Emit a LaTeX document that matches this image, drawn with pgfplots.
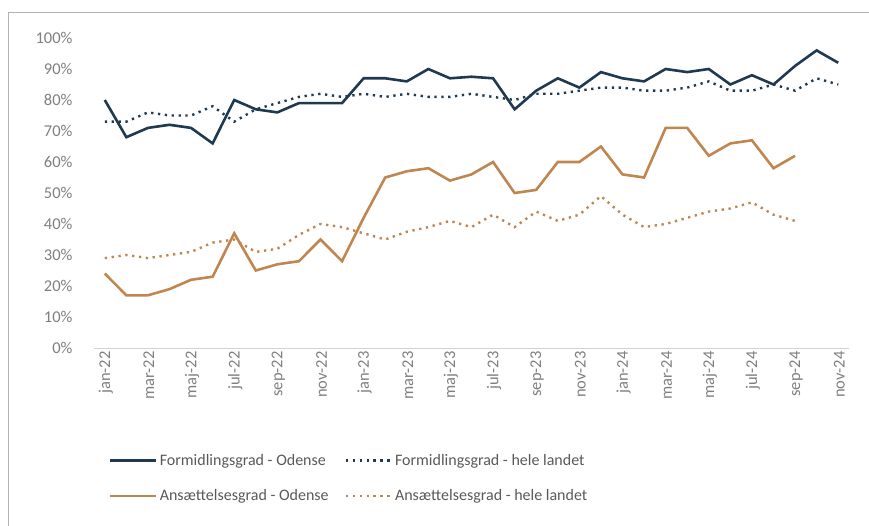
\documentclass[border=0pt]{standalone}
\usepackage{fontspec}
\setmainfont{Carlito}
\usepackage{pgfplots}
\pgfplotsset{compat=1.18}
\usepackage{pgfplotstable}

\definecolor{navy}{HTML}{1F3A50}
\definecolor{tan}{HTML}{C08650}
\definecolor{ticktxt}{HTML}{7F7F7F}
\definecolor{legtxt}{HTML}{595959}

% month index, Formidlingsgrad Odense / hele landet, Ansaettelsesgrad Odense / hele landet
\pgfplotstableread{
x fo fl
0 80 73
1 68 73
2 71 76
3 72 75
4 71 75
5 66 78
6 80 73
7 77 77
8 76 79
9 79 81
10 79 82
11 79 81
12 87 82
13 87 81
14 86 82
15 90 81
16 87 81
17 87.5 82
18 87 81
19 77 80
20 83 82
21 87 82
22 84 83
23 89 84
24 87 84
25 86 83
26 90 83
27 89 84
28 90 86
29 85 83
30 88 83
31 85 85
32 91 83
33 96 87
34 92 85
}\formid

\pgfplotstableread{
x ao al
0 24 29
1 17 30
2 17 29
3 19 30
4 22 31
5 23 34
6 37 35
7 25 31
8 27 32
9 28 36.5
10 35 40
11 28 39
12 42 37
13 55 35
14 57 37.5
15 58 39
16 54 41
17 56 39
18 60 43
19 50 39
20 51 44
21 60 41
22 60 43
23 65 49
24 56 43
25 55 39
26 71 40
27 71 42
28 62 44
29 66 45
30 67 47
31 58 43
32 62 41
}\ansaet

\begin{document}
\begin{tikzpicture}
\useasboundingbox (-94bp,-178bp) rectangle (775bp,348bp);
\draw[gray!60, line width=0.8bp] (-86bp,-178bp) -- (-86bp,336bp) -- (775bp,336bp);
\begin{axis}[
  scale only axis,
  width=755bp, height=310bp,
  xmin=-0.5, xmax=34.5,
  ymin=0, ymax=100,
  axis line style={draw=none},
  clip=false,
  ytick={0,10,...,100},
  xtick={0,2,...,34},
  xticklabels={jan-22,mar-22,maj-22,jul-22,sep-22,nov-22,jan-23,mar-23,maj-23,jul-23,sep-23,nov-23,jan-24,mar-24,maj-24,jul-24,sep-24,nov-24},
  yticklabel={\pgfmathprintnumber{\tick}\%},
  /pgf/number format/assume math mode=true,
  tick style={draw=none},
  yticklabel style={font=\fontsize{16.5bp}{18bp}\selectfont, text=ticktxt, anchor=east, xshift=-18bp},
  xticklabel style={font=\fontsize{16.5bp}{18bp}\selectfont, text=ticktxt, rotate=90, anchor=east, yshift=-1bp},
  legend columns=2,
  legend cell align=left,
  legend style={at={(axis cs:-0.5,0)}, anchor=north west, xshift=12bp, yshift=-102bp,
    draw=none, fill=none, font=\fontsize{16bp}{18bp}\selectfont, text=legtxt,
    /tikz/every even column/.append style={column sep=14bp},
    row sep=19bp},
  legend image code/.code={\draw[#1] (0bp,0bp) -- (46bp,0bp);},
]
\draw[gray!35, line width=1bp] (axis cs:-0.5,0) -- (axis cs:34.5,0);
\addplot[navy, line width=2.6bp] table[x=x, y=fo] {\formid};
\addlegendentry{Formidlingsgrad - Odense}
\addplot[navy, line width=2.4bp, dash pattern=on 2.3bp off 4.6bp] table[x=x, y=fl] {\formid};
\addlegendentry{Formidlingsgrad - hele landet}
\addplot[tan, line width=2.6bp] table[x=x, y=ao] {\ansaet};
\addlegendentry{Ansættelsesgrad - Odense}
\addplot[tan, line width=2.4bp, dash pattern=on 2.3bp off 4.6bp] table[x=x, y=al] {\ansaet};
\addlegendentry{Ansættelsesgrad - hele landet}
\end{axis}
\end{tikzpicture}
\end{document}
